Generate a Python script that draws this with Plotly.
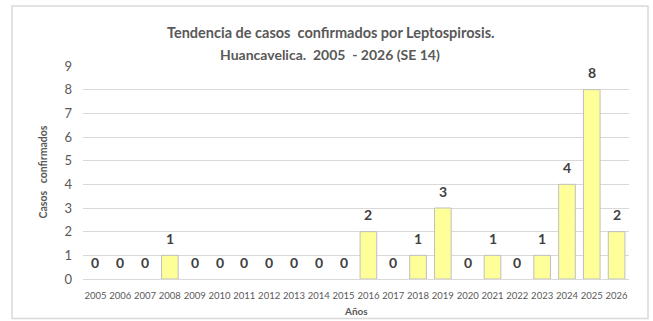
import plotly.graph_objects as go

years = [str(y) for y in range(2005, 2027)]
cases = [0, 0, 0, 1, 0, 0, 0, 0, 0, 0, 0, 2, 0, 1, 3, 0, 1, 0, 1, 4, 8, 2]
y_ticks = list(range(0, 10))

title_lines = ["Tendencia de casos  confirmados por Leptospirosis.",
               "Huancavelica.  2005  - 2026 (SE 14)"]
y_title = "Casos   confirmados"
x_title = "Años"

FONT = "Lato, sans-serif"

fig = go.Figure()
fig.add_trace(go.Bar(
    x=years, y=cases,
    marker=dict(color="#FFFF99",
                # no outline on empty bars
                line=dict(color="#BFBFBF", width=[1 if v > 0 else 0 for v in cases])),
    hoverinfo="x+y",
))

# value labels above each bar (category index used as x position)
for i, v in enumerate(cases):
    fig.add_annotation(x=i, y=v, text=f"<b>{v}</b>", showarrow=False,
                       yanchor="middle", yshift=17,
                       font=dict(family=FONT, size=14, color="#404040"))

# chart title, two lines
fig.add_annotation(xref="paper", yref="paper", x=(330 - 83) / 546, y=(279.3 - 31.7) / 213.6,
                   text=f"<b>{title_lines[0]}</b>", showarrow=False,
                   xanchor="center", yanchor="middle",
                   font=dict(family=FONT, size=14.5, color="#595959"))
fig.add_annotation(xref="paper", yref="paper", x=(330 - 83) / 546, y=(279.3 - 54.3) / 213.6,
                   text=f"<b>{title_lines[1]}</b>", showarrow=False,
                   xanchor="center", yanchor="middle",
                   font=dict(family=FONT, size=14, color="#595959"))

# axis titles
fig.add_annotation(xref="paper", yref="paper", x=(42 - 83) / 546, y=0.5,
                   text=f"<b>{y_title}</b>", showarrow=False, textangle=-90,
                   xanchor="center", yanchor="middle",
                   font=dict(family=FONT, size=10.5, color="#595959"))
fig.add_annotation(xref="paper", yref="paper", x=(356 - 83) / 546, y=(279.3 - 311) / 213.6,
                   text=f"<b>{x_title}</b>", showarrow=False,
                   xanchor="center", yanchor="middle",
                   font=dict(family=FONT, size=10, color="#595959"))

# outer chart border
fig.add_shape(type="rect", xref="paper", yref="paper",
              x0=(12 - 83) / 546, x1=(648 - 83) / 546,
              y0=(279.3 - 319) / 213.6, y1=(279.3 - 5.5) / 213.6,
              line=dict(color="#D9D9D9", width=1.5), fillcolor="rgba(0,0,0,0)",
              layer="below")

fig.update_layout(
    width=653, height=321,
    margin=dict(l=83, r=24, t=65.7, b=41.7),
    paper_bgcolor="white", plot_bgcolor="white",
    bargap=0.33,
    showlegend=False,
    xaxis=dict(type="category", categoryorder="array", categoryarray=years,
               range=[-0.5, len(years) - 0.5],
               tickfont=dict(family=FONT, size=9.5, color="#595959"),
               showgrid=False, showline=True, linecolor="#D9D9D9", linewidth=1,
               ticks="", ticklabelstandoff=8),
    yaxis=dict(range=[0, 9], tickvals=y_ticks, showline=False,
               gridcolor="#D9D9D9", gridwidth=1, zeroline=False,
               tickfont=dict(family=FONT, size=13, color="#595959"),
               ticks="", ticklabelstandoff=10),
)

fig.write_html("out.html")
